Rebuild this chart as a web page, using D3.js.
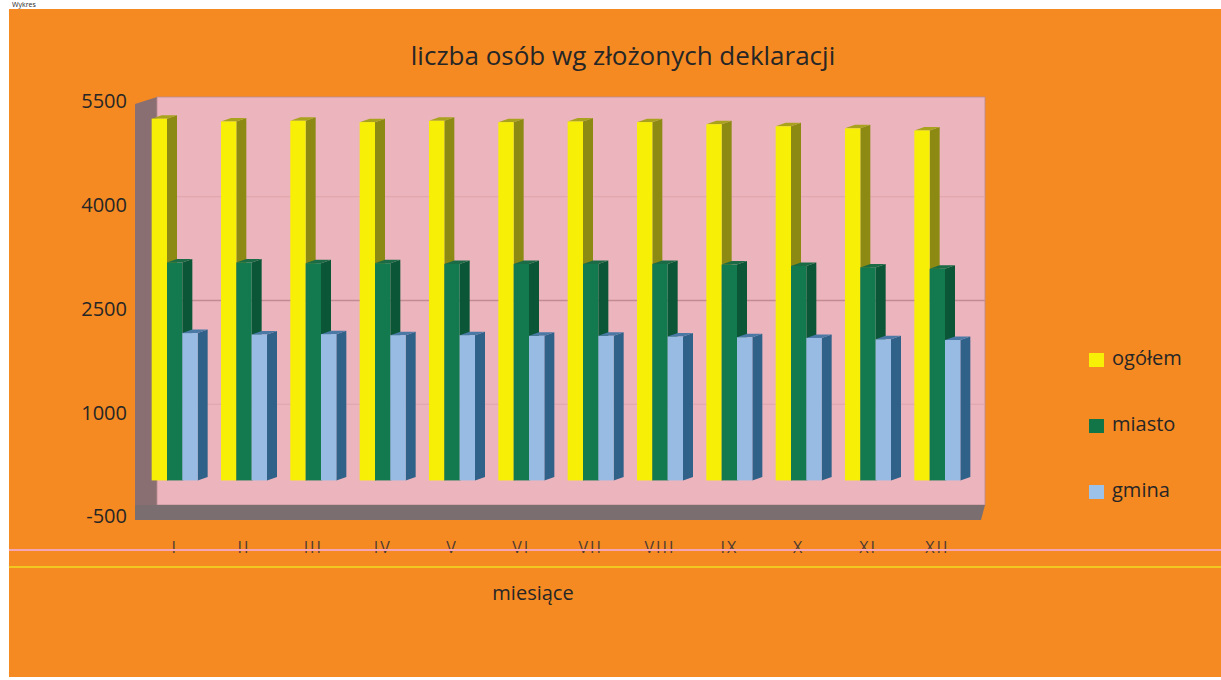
<!DOCTYPE html>
<html lang="pl">
<head>
<meta charset="utf-8">
<title>liczba osób wg złożonych deklaracji</title>
<script src="https://cdn.jsdelivr.net/npm/d3@7.9.0/dist/d3.min.js"></script>
<style>
  html, body { margin: 0; padding: 0; background: #fff; }
  svg { display: block; }
  text { font-family: "Open Sans", sans-serif; fill: #262626; }
</style>
</head>
<body>
<div id="chart"></div>
<script>
const months = ["I", "II", "III", "IV", "V", "VI", "VII", "VIII", "IX", "X", "XI", "XII"];
const seriesNames = ["ogółem", "miasto", "gmina"];
const ogolem = [5230, 5190, 5200, 5180, 5200, 5180, 5190, 5180, 5150, 5120, 5090, 5060];
const miasto = [3150, 3150, 3140, 3140, 3130, 3130, 3130, 3130, 3120, 3100, 3080, 3060];
const gmina = [2130, 2110, 2115, 2100, 2100, 2090, 2090, 2080, 2070, 2060, 2040, 2030];
const yTicks = [-500, 1000, 2500, 4000, 5500];
const gridTicks = [1000, 2500, 4000];

const seriesValues = { "ogółem": ogolem, "miasto": miasto, "gmina": gmina };
const colors = {
  "ogółem": { front: "#f7ef06", side: "#8d8a14", top: "#a9a21c", key: "#f7ef06" },
  "miasto": { front: "#127a4e", side: "#0b5636", top: "#1b6b46", key: "#117548" },
  "gmina": { front: "#97bbe3", side: "#2f6189", top: "#4a79a6", key: "#9dc2ea" },
};

const width = 1221;
const height = 680;

const svg = d3
  .select("#chart")
  .append("svg")
  .attr("width", width)
  .attr("height", height);

// caption of the page above the chart area
svg
  .append("text")
  .attr("x", 12)
  .attr("y", 1)
  .attr("dominant-baseline", "hanging")
  .style("font-size", "7px")
  .text("Wykres");

svg
  .append("rect")
  .attr("x", 9)
  .attr("y", 9)
  .attr("width", width - 9)
  .attr("height", 668)
  .attr("fill", "#f68a22");

const yScale = d3.scaleLinear().domain([-500, 5500]).range([515, 100]);
const xScale = d3.scaleBand().domain(months).range([140, 972]);
const xInner = d3.scaleBand().domain(seriesNames).range([0, 46]);
const legendY = d3.scalePoint().domain(seriesNames).range([360, 492]);

// 3d frame: back wall, side wall, floor edge
const wall = { left: 157, right: 985, top: 97, bottom: 505 };
svg
  .append("polygon")
  .attr("points", `135,104 ${wall.left},${wall.top} ${wall.left},${wall.bottom} 135,520`)
  .attr("fill", "#8a6f72");
svg
  .append("rect")
  .attr("x", wall.left)
  .attr("y", wall.top)
  .attr("width", wall.right - wall.left)
  .attr("height", wall.bottom - wall.top)
  .attr("fill", "#ecb5bd")
  .attr("stroke", "#b98a8f")
  .attr("stroke-width", 0.8);
svg
  .append("polygon")
  .attr("points", `135,${wall.bottom} ${wall.right},${wall.bottom} 981,520 135,520`)
  .attr("fill", "#7b6e71");

svg
  .append("g")
  .selectAll("line")
  .data(gridTicks)
  .join("line")
  .attr("x1", wall.left)
  .attr("x2", wall.right)
  .attr("y1", (d) => yScale(d) - 7)
  .attr("y2", (d) => yScale(d) - 7)
  .attr("stroke", (d) => (d === 2500 ? "#c48a92" : "#dea4ad"))
  .attr("stroke-width", (d) => (d === 2500 ? 1.6 : 1));

// bars
const bar = { dx: 10, dy: -3.5 };
const barData = months.flatMap((m, i) =>
  seriesNames.map((s) => ({ month: m, series: s, value: seriesValues[s][i] })),
);

svg
  .append("g")
  .selectAll("g")
  .data(barData)
  .join("g")
  .each(function (d) {
    const g = d3.select(this);
    const x0 = xScale(d.month) + (xScale.bandwidth() - xInner.range()[1]) / 2 + xInner(d.series);
    const w = xInner.bandwidth();
    const top = yScale(d.value);
    const base = yScale(0);
    const c = colors[d.series];
    g.append("polygon")
      .attr("points", `${x0 + w},${top} ${x0 + w + bar.dx},${top + bar.dy} ${x0 + w + bar.dx},${base + bar.dy} ${x0 + w},${base}`)
      .attr("fill", c.side);
    g.append("polygon")
      .attr("points", `${x0},${top} ${x0 + bar.dx},${top + bar.dy} ${x0 + w + bar.dx},${top + bar.dy} ${x0 + w},${top}`)
      .attr("fill", c.top);
    g.append("rect")
      .attr("x", x0)
      .attr("y", top)
      .attr("width", w)
      .attr("height", base - top)
      .attr("fill", c.front);
  });

// y axis labels
svg
  .append("g")
  .selectAll("text")
  .data(yTicks)
  .join("text")
  .attr("x", 127)
  .attr("y", (d) => yScale(d) + 3)
  .attr("text-anchor", "end")
  .attr("dominant-baseline", "middle")
  .style("font-size", "20px")
  .text((d) => d);

// x axis labels
svg
  .append("g")
  .selectAll("text")
  .data(months)
  .join("text")
  .attr("x", (d) => xScale(d) + xScale.bandwidth() / 2)
  .attr("y", 549)
  .attr("text-anchor", "middle")
  .attr("dominant-baseline", "middle")
  .style("font-size", "16px")
  .style("letter-spacing", "2px")
  .style("fill", "#4d3b32")
  .text((d) => d);

svg.append("line").attr("x1", 9).attr("x2", width).attr("y1", 550).attr("y2", 550)
  .attr("stroke", "#f5a6b6").attr("stroke-width", 2);
svg.append("line").attr("x1", 9).attr("x2", width).attr("y1", 567).attr("y2", 567)
  .attr("stroke", "#eedc20").attr("stroke-width", 1.5);

svg
  .append("text")
  .attr("x", 533)
  .attr("y", 595)
  .attr("text-anchor", "middle")
  .attr("dominant-baseline", "middle")
  .style("font-size", "20px")
  .text("miesiące");

svg
  .append("text")
  .attr("x", 623)
  .attr("y", 58)
  .attr("text-anchor", "middle")
  .attr("dominant-baseline", "middle")
  .style("font-size", "26px")
  .text("liczba osób wg złożonych deklaracji");

// legend
const legend = svg
  .append("g")
  .selectAll("g")
  .data(seriesNames)
  .join("g")
  .attr("transform", (d) => `translate(1089, ${legendY(d)})`);
legend
  .append("rect")
  .attr("x", 0)
  .attr("y", -7)
  .attr("width", 15)
  .attr("height", 14)
  .attr("fill", (d) => colors[d].key);
legend
  .append("text")
  .attr("x", 23)
  .attr("y", 0)
  .attr("dominant-baseline", "middle")
  .style("font-size", "20px")
  .text((d) => d);
</script>
</body>
</html>
